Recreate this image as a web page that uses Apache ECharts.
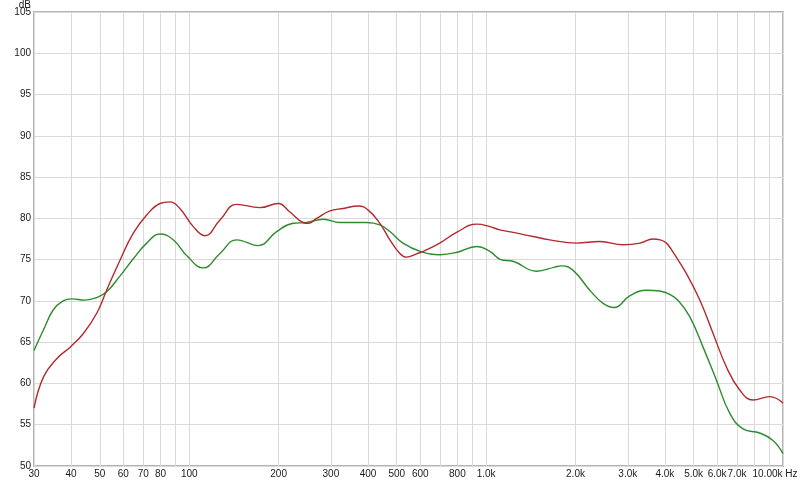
<!DOCTYPE html>
<html>
<head>
<meta charset="utf-8">
<script src="https://cdn.jsdelivr.net/npm/echarts@6/dist/echarts.min.js"></script>
<style>
html,body{margin:0;padding:0;background:#fff;}
#chart{width:800px;height:481px;}
</style>
</head>
<body>
<div id="chart"></div>
<script>
// Frequencies (Hz) and levels (dB)
var greenFreq = [30, 32.3, 34.8, 37.6, 40.2, 44.5, 48.8, 52.7, 58.4, 64.8, 71.9, 79.7, 88.3, 98, 111.5, 126.9, 144.5, 170.7, 197, 224, 248.4, 282.6, 321.6, 395.7, 438.6, 474, 525, 600, 700, 800, 930, 1030, 1120, 1233, 1478, 1703, 1795, 1963, 2234, 2477, 2700, 3046, 3468, 3845, 4156, 4450, 4852, 5379, 5968, 6615, 7333, 8346, 9253, 10000];
var greenDb   = [64.0, 66.5, 68.9, 70.0, 70.25, 70.1, 70.4, 71.1, 73.0, 75.1, 77.0, 78.1, 77.4, 75.5, 74.0, 75.75, 77.4, 76.7, 78.4, 79.4, 79.5, 79.9, 79.5, 79.5, 79.2, 78.4, 77.0, 76.0, 75.6, 75.9, 76.6, 76.0, 75.0, 74.8, 73.6, 74.1, 74.25, 73.7, 71.3, 69.7, 69.2, 70.6, 71.3, 71.2, 70.8, 70.0, 68.1, 64.4, 60.4, 56.4, 54.5, 54.0, 53.1, 51.5];

var redFreq = [30, 32.3, 35.8, 39.7, 44, 48.8, 52.7, 58.4, 64.8, 71.9, 79.7, 86.1, 93, 103.2, 113, 126.9, 144.5, 173, 199.4, 218, 242, 251.6, 268.6, 297.7, 330, 370.8, 400.8, 438.6, 474, 512, 539.5, 583, 622, 698, 795, 930, 1030, 1112, 1233, 1439, 1639, 2016, 2414, 2892, 3300, 3650, 3850, 4050, 4263, 4729, 5245, 5815, 6448, 7150, 7925, 9024, 10000];
var redDb   = [57.0, 60.8, 63.0, 64.4, 66.05, 68.5, 71.3, 74.9, 78.2, 80.4, 81.8, 82.0, 81.2, 79.0, 77.9, 79.8, 81.7, 81.3, 81.8, 80.8, 79.5, 79.4, 80.0, 80.9, 81.2, 81.5, 81.0, 79.4, 77.4, 75.75, 75.3, 75.7, 76.1, 77.0, 78.3, 79.3, 79.0, 78.6, 78.3, 77.8, 77.4, 77.0, 77.2, 76.8, 77.0, 77.5, 77.4, 77.0, 75.9, 73.3, 70.1, 66.05, 62.0, 59.2, 58.0, 58.4, 57.6];

var gridFreqs = [30, 40, 50, 60, 70, 80, 90, 100, 200, 300, 400, 500, 600, 700, 800, 900, 1000, 2000, 3000, 4000, 5000, 6000, 7000, 8000, 9000, 10000];
var labelFreqs = [30, 40, 50, 60, 70, 80, 100, 200, 300, 400, 500, 600, 800, 1000, 2000, 3000, 4000, 5000, 6000, 7000, 10000];
var yTicks = { min: 50, max: 105, step: 5 };
var yUnit = 'dB';

function toLog(freqs, vals) {
  return freqs.map(function (f, i) { return [Math.log10(f), vals[i]]; });
}
function fmtFreq(v) {
  var f = Math.round(Math.pow(10, v));
  if (f >= 10000) return '{last|10.00k Hz}';
  if (f >= 1000) return (f / 1000).toFixed(1) + 'k';
  return String(f);
}

var chart = echarts.init(document.getElementById('chart'), null, { renderer: 'canvas' });
var font = 'Liberation Sans, Arial, sans-serif';
chart.setOption({
  animation: false,
  backgroundColor: '#ffffff',
  graphic: [{
    type: 'text', right: 769, top: 0,
    style: { text: yUnit, fill: '#1a1a1a', fontSize: 10, fontFamily: font }
  }],
  grid: {
    left: 34, right: 17, top: 12, bottom: 15,
    show: true, borderColor: '#b4b4b4', borderWidth: 2, backgroundColor: '#fff',
    outerBoundsMode: 'none'
  },
  xAxis: {
    type: 'value',
    min: Math.log10(gridFreqs[0]),
    max: Math.log10(gridFreqs[gridFreqs.length - 1]),
    axisLine: { show: false },
    axisTick: { show: false, customValues: gridFreqs.map(function (f) { return Math.log10(f); }) },
    splitLine: { show: true, lineStyle: { color: '#dadada', width: 1 } },
    axisLabel: {
      customValues: labelFreqs.map(function (f) { return Math.log10(f); }),
      formatter: fmtFreq,
      hideOverlap: false,
      margin: 3,
      color: '#1a1a1a',
      fontSize: 10,
      fontFamily: font,
      rich: { last: { fontSize: 10, fontFamily: font, color: '#1a1a1a', padding: [0, 16, 0, 0] } }
    }
  },
  yAxis: {
    type: 'value',
    min: yTicks.min, max: yTicks.max, interval: yTicks.step,
    axisLine: { show: false },
    axisTick: { show: false },
    splitLine: { show: true, lineStyle: { color: '#dadada', width: 1 } },
    axisLabel: { margin: 3, color: '#1a1a1a', fontSize: 10, fontFamily: font }
  },
  series: [
    {
      type: 'line', name: 'green', data: toLog(greenFreq, greenDb),
      smooth: 0.45, showSymbol: false,
      lineStyle: { color: '#2e8b2e', width: 1.4 }, itemStyle: { color: '#2e8b2e' }
    },
    {
      type: 'line', name: 'red', data: toLog(redFreq, redDb),
      smooth: 0.45, showSymbol: false,
      lineStyle: { color: '#b22a2e', width: 1.4 }, itemStyle: { color: '#b22a2e' }
    }
  ]
});
</script>
</body>
</html>
